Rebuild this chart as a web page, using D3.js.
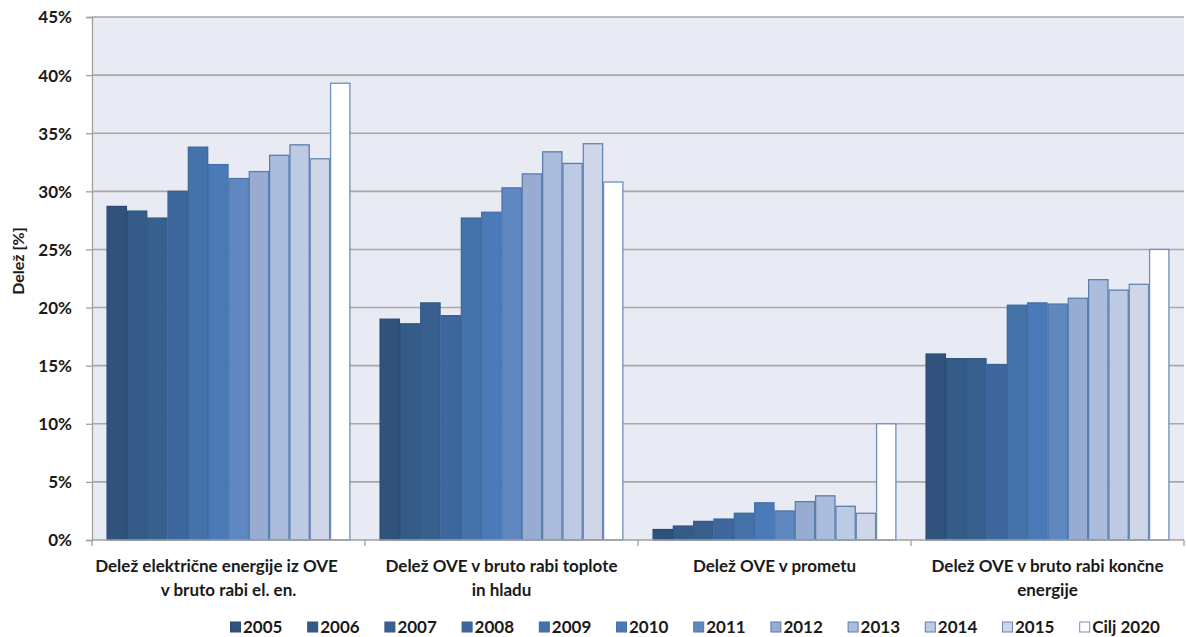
<!DOCTYPE html>
<html>
<head>
<meta charset="utf-8">
<script src="https://cdn.jsdelivr.net/npm/d3@7/dist/d3.min.js"></script>
<style>
  html, body { margin: 0; padding: 0; background: #ffffff; }
  svg { display: block; }
  text { font-family: Lato, "Open Sans", sans-serif; font-weight: 700; fill: #1a1a1a; }
</style>
</head>
<body>
<svg id="chart" width="1186" height="637"></svg>
<script>
// Shares of renewable energy sources (OVE) per indicator, by year, with 2020 target
const categories = [
  ["Delež električne energije iz OVE", "v bruto rabi el. en."],
  ["Delež OVE v bruto rabi toplote", "in hladu"],
  ["Delež OVE v prometu"],
  ["Delež OVE v bruto rabi končne", "energije"]
];
const seriesNames = ["2005", "2006", "2007", "2008", "2009", "2010", "2011", "2012", "2013", "2014", "2015", "Cilj 2020"];

const v2005 = [28.7, 19.0, 0.9, 16.0];
const v2006 = [28.3, 18.6, 1.2, 15.6];
const v2007 = [27.7, 20.4, 1.6, 15.6];
const v2008 = [30.0, 19.3, 1.8, 15.1];
const v2009 = [33.8, 27.7, 2.3, 20.2];
const v2010 = [32.3, 28.2, 3.2, 20.4];
const v2011 = [31.1, 30.3, 2.5, 20.3];
const v2012 = [31.7, 31.5, 3.3, 20.8];
const v2013 = [33.1, 33.4, 3.8, 22.4];
const v2014 = [34.0, 32.4, 2.9, 21.5];
const v2015 = [32.8, 34.1, 2.3, 22.0];
const vCilj = [39.3, 30.8, 10.0, 25.0];
const seriesValues = [v2005, v2006, v2007, v2008, v2009, v2010, v2011, v2012, v2013, v2014, v2015, vCilj];

const yTicks = [0, 5, 10, 15, 20, 25, 30, 35, 40, 45];

const fills = ["#30527c", "#355b88", "#38608f", "#3f679f", "#4472a9", "#4a7ab8", "#5f88c0",
               "#97acd0", "#abbcdc", "#bdcae3", "#cfd6e7", "#ffffff"];
const strokes = ["#2c4b72", "#31547d", "#345986", "#3a6094", "#3f6a9e", "#4670aa", "#4e77ae",
                 "#5a7fae", "#5a7fae", "#5a7fae", "#6786b3", "#6f8fba"];

const svg = d3.select("#chart");
const margin = { left: 92, right: 2, top: 17, bottom: 97 };
const W = 1186, H = 637;
const plotW = W - margin.left - margin.right;
const plotH = H - margin.top - margin.bottom;

const g = svg.append("g").attr("transform", `translate(${margin.left},${margin.top})`);

const y = d3.scaleLinear().domain([0, 45]).range([plotH, 0]);
const x0 = d3.scaleBand().domain(d3.range(categories.length)).range([0, plotW]).padding(0);
const x1 = d3.scaleBand().domain(d3.range(seriesNames.length))
  .range([14.6, x0.bandwidth() - 14.6]).padding(0);

// plot background
g.append("rect").attr("width", plotW).attr("height", plotH).attr("fill", "#e8eaf4");

// horizontal gridlines
g.selectAll("line.grid").data(yTicks.filter(d => d > 0)).join("line")
  .attr("class", "grid")
  .attr("x1", 0).attr("x2", plotW)
  .attr("y1", d => y(d)).attr("y2", d => y(d))
  .attr("stroke", "#a9a9a9").attr("stroke-width", 1.6);

// bars
const groups = g.selectAll("g.cat").data(categories.map((c, i) => i)).join("g")
  .attr("class", "cat")
  .attr("transform", i => `translate(${x0(i)},0)`);

groups.selectAll("rect").data(ci => seriesValues.map((vals, si) => ({ si, v: vals[ci] }))).join("rect")
  .attr("x", d => x1(d.si) + 0.5)
  .attr("width", x1.bandwidth() - 1)
  .attr("y", d => y(d.v))
  .attr("height", d => y(0) - y(d.v))
  .attr("fill", d => fills[d.si])
  .attr("stroke", d => strokes[d.si])
  .attr("stroke-width", 1.3);

// y axis
const yAxis = d3.axisLeft(y).tickValues(yTicks).tickFormat(d => d + "%").tickSize(6).tickPadding(14);
const ya = g.append("g").call(yAxis);
ya.select(".domain").attr("stroke", "#a0a0a0").attr("stroke-width", 1.3);
ya.selectAll(".tick line").attr("stroke", "#a0a0a0").attr("stroke-width", 1.3);
ya.selectAll(".tick text").attr("font-size", 17).attr("font-family", "Lato, sans-serif")
  .attr("font-weight", 700).attr("fill", "#1a1a1a").attr("dy", "0.35em");

// x axis baseline with ticks at category boundaries
g.append("line").attr("x1", 0).attr("x2", plotW).attr("y1", plotH).attr("y2", plotH)
  .attr("stroke", "#a0a0a0").attr("stroke-width", 1.3);
g.selectAll("line.xtick").data(d3.range(categories.length + 1)).join("line")
  .attr("class", "xtick")
  .attr("x1", i => i * x0.bandwidth()).attr("x2", i => i * x0.bandwidth())
  .attr("y1", plotH).attr("y2", plotH + 6)
  .attr("stroke", "#a0a0a0").attr("stroke-width", 1.3);

// category labels (a wide first line near the left edge is pulled slightly leftward)
const catLabels = g.selectAll("text.cat").data(categories).join("text")
  .attr("class", "cat")
  .attr("text-anchor", "middle")
  .attr("font-size", 17)
  .attr("transform", (d, i) => `translate(${x0(i) + x0.bandwidth() / 2},${plotH + 32})`);
catLabels.each(function (lines, ci) {
  d3.select(this).selectAll("tspan").data(lines).join("tspan")
    .attr("x", (d, li) => (ci === 0 && li === 0) ? -12 : 0)
    .attr("dy", (d, li) => li === 0 ? 0 : 24)
    .text(d => d);
});

// y axis title
svg.append("text")
  .attr("transform", `translate(24,${margin.top + y(24)}) rotate(-90)`)
  .attr("text-anchor", "middle")
  .attr("font-size", 16)
  .text("Delež [%]");

// legend
const legend = svg.append("g").attr("transform", "translate(230,627)");
const items = legend.selectAll("g").data(seriesNames).join("g")
  .attr("transform", (d, i) => `translate(${i * 77.2},0)`);
items.append("rect")
  .attr("x", 0.5).attr("y", -5).attr("width", 10).attr("height", 10)
  .attr("fill", (d, i) => fills[i]).attr("stroke", (d, i) => strokes[i]).attr("stroke-width", 1);
items.append("text")
  .attr("x", 13).attr("dy", "0.36em")
  .attr("font-size", 17)
  .text(d => d);
</script>
</body>
</html>
